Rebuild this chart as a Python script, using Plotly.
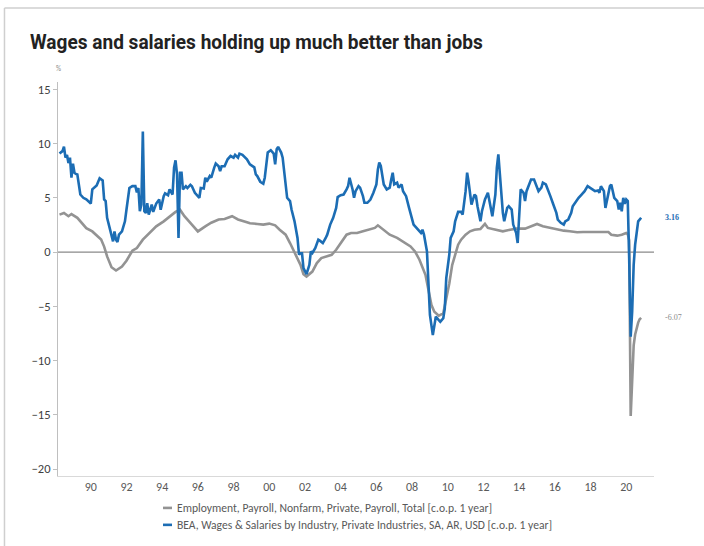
import plotly.graph_objects as go

# BEA private wages & salaries, % change over 1 year
wage_dates = [
    "1988-04", "1988-05", "1988-06", "1988-07", "1988-08", "1988-09", "1988-10", "1988-11", "1988-12",
    "1989-01", "1989-02", "1989-03", "1989-04", "1989-06", "1989-08", "1989-10", "1989-11",
    "1990-01", "1990-02", "1990-05", "1990-07", "1990-09", "1990-10", "1990-11", "1990-12",
    "1991-03", "1991-04", "1991-05", "1991-06", "1991-07", "1991-08", "1991-10", "1991-12",
    "1992-01", "1992-03", "1992-05", "1992-07", "1992-08", "1992-09", "1992-10", "1992-11", "1992-12",
    "1993-01", "1993-02", "1993-03", "1993-04", "1993-06", "1993-07", "1993-09", "1993-11", "1993-12",
    "1994-02", "1994-03", "1994-05", "1994-06", "1994-08", "1994-09", "1994-10", "1994-11", "1994-12",
    "1995-01", "1995-02", "1995-03", "1995-05", "1995-06", "1995-08", "1995-09", "1995-11",
    "1996-01", "1996-02", "1996-03", "1996-05", "1996-06", "1996-07", "1996-09", "1996-10", "1996-12",
    "1997-01", "1997-03", "1997-04", "1997-05", "1997-07", "1997-09", "1997-11",
    "1998-01", "1998-02", "1998-04", "1998-05", "1998-07", "1998-10", "1998-12",
    "1999-01", "1999-03", "1999-04", "1999-05", "1999-07", "1999-09", "1999-10", "1999-12",
    "2000-02", "2000-04", "2000-05", "2000-06", "2000-07", "2000-09", "2000-10", "2000-12",
    "2001-01", "2001-03", "2001-04", "2001-06", "2001-08", "2001-09", "2001-10", "2001-11", "2001-12",
    "2002-02", "2002-04", "2002-05", "2002-06", "2002-08", "2002-10", "2002-11",
    "2003-01", "2003-03", "2003-04", "2003-06", "2003-08", "2003-10", "2003-11",
    "2004-01", "2004-03", "2004-05", "2004-06", "2004-07", "2004-08", "2004-09", "2004-10", "2004-11",
    "2005-01", "2005-02", "2005-04", "2005-05", "2005-07", "2005-09", "2005-11",
    "2006-01", "2006-02", "2006-03", "2006-04", "2006-05", "2006-06", "2006-08", "2006-10", "2006-11", "2006-12",
    "2007-01", "2007-03", "2007-04", "2007-06", "2007-07", "2007-09", "2007-11",
    "2008-01", "2008-02", "2008-04", "2008-06", "2008-07", "2008-08", "2008-09", "2008-11", "2008-12",
    "2009-01", "2009-03", "2009-04", "2009-05", "2009-07", "2009-08", "2009-10", "2009-11", "2009-12",
    "2010-02", "2010-03", "2010-05", "2010-06", "2010-08", "2010-10", "2010-11",
    "2011-01", "2011-02", "2011-03", "2011-05", "2011-07", "2011-08", "2011-09", "2011-11", "2011-12",
    "2012-02", "2012-04", "2012-05", "2012-07", "2012-09", "2012-10", "2012-11", "2012-12",
    "2013-02", "2013-03", "2013-05", "2013-06", "2013-08", "2013-09", "2013-11", "2013-12",
    "2014-01", "2014-02", "2014-04", "2014-05", "2014-06", "2014-08", "2014-09", "2014-11",
    "2015-01", "2015-02", "2015-04", "2015-05", "2015-07", "2015-09", "2015-10", "2015-12",
    "2016-02", "2016-03", "2016-05", "2016-07", "2016-08", "2016-10", "2016-12",
    "2017-01", "2017-03", "2017-05", "2017-07", "2017-09", "2017-11",
    "2018-01", "2018-02", "2018-04", "2018-06", "2018-07", "2018-08", "2018-10", "2018-11",
    "2019-01", "2019-02", "2019-03", "2019-04", "2019-05", "2019-07", "2019-08", "2019-09", "2019-10", "2019-11", "2019-12",
    "2020-01", "2020-02", "2020-03", "2020-04", "2020-05", "2020-06", "2020-07", "2020-08", "2020-09", "2020-10", "2020-11",
]
wage_vals = [
    9.07, 9.2, 9.3, 9.7, 8.7, 8.95, 8.2, 8.7, 6.85,
    8.15, 7.3, 7.2, 7.15, 5.3, 5.0, 4.85, 4.7,
    4.47, 5.77, 6.14, 6.8, 6.6, 4.85, 4.7, 3.15,
    1.6, 0.98, 1.9, 1.14, 0.93, 1.6, 1.9, 2.83,
    3.9, 5.9, 6.07, 6.07, 5.5, 5.9, 3.76, 4.38, 11.1,
    3.76, 3.6, 4.5, 3.45, 4.38, 3.7, 4.47, 4.85, 3.9,
    5.15, 5.4, 5.24, 5.77, 5.3, 7.78, 8.45, 7.15, 1.3,
    7.3, 7.3, 5.77, 6.07, 5.9, 6.2, 6.07, 5.46,
    5.15, 5.0, 5.9, 5.86, 6.85, 6.5, 7.0, 6.85, 7.78,
    8.15, 7.9, 7.46, 7.9, 7.9, 8.55, 8.85,
    8.7, 8.95, 8.7, 9.07, 8.95, 8.55, 8.08,
    8.0, 7.8, 7.15, 7.0, 6.48, 6.3, 6.85, 9.17,
    9.38, 9.07, 8.08, 9.47, 9.69, 9.17, 8.7, 5.93,
    5.0, 4.69, 3.92, 2.83, 1.3, -0.25, -0.09, -0.1, -1.48,
    -2.04, -1.18, 0.06, -0.09, 0.37, 1.14, 1.05,
    0.83, 1.3, 1.6, 2.53, 3.15, 4.07, 5.06,
    5.24, 5.3, 5.77, 6.07, 6.85, 6.39, 5.77, 5.0, 5.61,
    6.07, 5.93, 5.15, 4.54, 4.54, 4.84, 5.46,
    6.23, 7.62, 8.24, 7.93, 6.85, 6.23, 5.77, 5.93, 6.69, 7.31,
    6.23, 6.39, 5.93, 6.23, 5.61, 5.15, 4.07,
    3.15, 2.53, 2.22, 1.97, 1.76, 2.06, 1.6, 0.06, -3.03,
    -5.8, -7.66, -6.58, -5.96, -6.27, -6.42, -6.1, -5.19, -2.41,
    -0.25, 1.3, 1.91, 2.83, 3.7, 3.7, 3.45,
    5.61, 7.31, 6.54, 4.38, 5.3, 5.15, 4.22, 2.83, 3.76,
    4.84, 5.46, 4.84, 3.3, 5.3, 7.78, 9.0, 7.16,
    3.61, 2.83, 4.07, 4.22, 3.92, 2.53, 1.76, 0.83,
    3.76, 5.77, 5.46, 4.69, 5.61, 6.23, 6.69, 6.69,
    6.07, 5.61, 5.93, 6.39, 6.23, 5.61, 5.15, 4.38,
    3.61, 2.99, 2.69, 2.53, 2.83, 2.99, 3.61,
    4.22, 4.63, 5.0, 5.3, 5.61, 6.07,
    5.86, 5.77, 5.61, 5.68, 5.46, 6.07, 5.61, 4.07,
    5.3, 6.07, 6.23, 5.61, 5.0, 4.69, 3.92, 4.54, 3.76, 5.0, 4.45,
    4.84, 4.69, -0.56, -7.8, -5.5, -1.18, 0.68, 1.91, 2.83, 2.99, 3.16,
]

# Private nonfarm payroll employment, % change over 1 year
emp_dates = [
    "1988-04", "1988-07", "1988-10", "1988-12", "1989-04", "1989-07", "1989-10",
    "1990-02", "1990-05", "1990-08", "1990-10", "1990-12", "1991-03", "1991-06", "1991-10",
    "1992-01", "1992-05", "1992-08", "1992-12", "1993-05", "1993-09",
    "1994-02", "1994-06", "1994-10", "1995-01", "1995-04", "1995-09",
    "1996-01", "1996-06", "1996-10", "1997-03", "1997-07", "1997-12",
    "1998-04", "1998-10", "1998-12", "1999-05", "1999-09",
    "2000-01", "2000-05", "2000-08", "2000-12", "2001-03", "2001-06", "2001-10", "2001-12",
    "2002-02", "2002-06", "2002-09", "2002-12", "2003-04", "2003-07", "2003-10",
    "2004-02", "2004-05", "2004-08", "2004-12", "2005-04", "2005-09", "2005-12",
    "2006-02", "2006-06", "2006-10", "2007-03", "2007-07", "2007-12",
    "2008-03", "2008-06", "2008-10", "2008-12", "2009-02", "2009-04", "2009-07", "2009-10", "2009-12",
    "2010-02", "2010-04", "2010-06", "2010-08", "2010-10", "2011-01", "2011-04", "2011-07", "2011-11",
    "2012-02", "2012-04", "2012-09", "2013-02", "2013-07", "2013-11", "2014-05", "2014-09",
    "2015-01", "2015-05", "2015-10", "2016-02", "2016-07", "2016-11", "2017-04", "2017-08",
    "2018-01", "2018-05", "2018-10", "2019-01", "2019-03", "2019-07", "2019-10",
    "2020-01", "2020-02", "2020-03", "2020-04", "2020-05", "2020-06", "2020-07", "2020-08", "2020-09", "2020-10", "2020-11",
]
emp_vals = [
    3.45, 3.6, 3.3, 3.5, 3.15, 2.7, 2.2,
    1.9, 1.5, 1.15, 0.5, -0.4, -1.4, -1.7, -1.33,
    -0.8, 0.12, 0.37, 1.14, 1.85, 2.37,
    2.83, 3.3, 3.7, 3.9, 3.3, 2.53,
    1.9, 2.37, 2.7, 3.0, 3.05, 3.3,
    3.0, 2.75, 2.65, 2.59, 2.53,
    2.62, 2.46, 2.06, 1.6, 0.83, -0.09, -1.18, -2.04,
    -2.26, -1.8, -1.02, -0.56, -0.41, -0.25, 0.21,
    0.98, 1.6, 1.76, 1.76, 1.91, 2.06, 2.22,
    2.46, 2.06, 1.6, 1.3, 0.98, 0.52,
    0.06, -0.71, -2.1, -3.65, -4.88, -5.5, -5.87, -5.65, -4.4,
    -2.9, -1.2, -0.25, 0.68, 1.14, 1.6, 1.91, 2.06, 2.13,
    2.59, 2.22, 2.06, 1.91, 2.06, 2.16, 2.16, 2.37,
    2.59, 2.37, 2.22, 2.06, 1.97, 1.91, 1.82, 1.85,
    1.85, 1.85, 1.85, 1.85, 1.6, 1.51, 1.6,
    1.76, 1.65, 1.1, -15.1, -11.2, -8.6, -7.6, -6.9, -6.5, -6.2, -6.07,
]

tick_years = list(range(1990, 2021, 2))
tick_vals = [f"{y}-01-01" for y in tick_years]
tick_text = [f"{y % 100:02d}" for y in tick_years]

EMP_NAME = "Employment, Payroll, Nonfarm, Private, Payroll, Total [c.o.p. 1 year]"
WAGE_NAME = "BEA, Wages & Salaries by Industry, Private Industries, SA, AR, USD [c.o.p. 1 year]"
EMP_COLOR = "#939393"
WAGE_COLOR = "#1c6db4"
AXIS_FONT = "Carlito, Lato, 'Open Sans', sans-serif"

fig = go.Figure()
fig.add_trace(go.Scatter(x=emp_dates, y=emp_vals, mode="lines", name=EMP_NAME,
                         line=dict(color=EMP_COLOR, width=2.6), showlegend=False))
fig.add_trace(go.Scatter(x=wage_dates, y=wage_vals, mode="lines", name=WAGE_NAME,
                         line=dict(color=WAGE_COLOR, width=2.6), showlegend=False))

# zero reference line
fig.add_hline(y=0, line=dict(color="#8a8a8a", width=1.3), layer="below")

# end-of-series value labels
fig.add_annotation(x=1, xref="paper", xanchor="left", xshift=9, y=wage_vals[-1], yref="y",
                   text=f"{wage_vals[-1]:.2f}", showarrow=False,
                   font=dict(family="'Liberation Serif', serif", size=8, color=WAGE_COLOR, weight="bold"))
fig.add_annotation(x=1, xref="paper", xanchor="left", xshift=9, y=emp_vals[-1], yref="y",
                   text=f"{emp_vals[-1]:.2f}", showarrow=False,
                   font=dict(family="'Liberation Serif', serif", size=8, color="#8c8c8c"))

# unit label above the value axis
fig.add_annotation(x=0, xref="paper", y=1, yref="paper", yshift=7, xanchor="center", yanchor="bottom",
                   text="%", showarrow=False, font=dict(family=AXIS_FONT, size=7, color="#8c8c8c"))

# legend rows: short line sample + label
legend_rows = [(EMP_NAME, EMP_COLOR, -0.081), (WAGE_NAME, WAGE_COLOR, -0.124)]
for label, color, ypos in legend_rows:
    fig.add_shape(type="line", xref="paper", yref="paper", x0=0.1762, x1=0.1913, y0=ypos, y1=ypos,
                  line=dict(color=color, width=2.6))
    fig.add_annotation(x=0.1963, xref="paper", y=ypos, yref="paper", xanchor="left", yanchor="middle",
                       text=label, showarrow=False,
                       font=dict(family=AXIS_FONT, size=11.6, color="#595959"))

# outer frame (top and left edges)
fig.add_shape(type="line", xref="paper", yref="paper", x0=-0.0898, x1=1.09, y0=1.1878, y1=1.1878,
              line=dict(color="#cfcfcf", width=1.5))
fig.add_shape(type="line", xref="paper", yref="paper", x0=-0.0898, x1=-0.0898, y0=1.1878, y1=-0.2,
              line=dict(color="#cfcfcf", width=1.5))

fig.update_layout(
    width=704, height=546,
    margin=dict(l=58, r=50, t=82, b=70),
    paper_bgcolor="white", plot_bgcolor="white",
    title=dict(text="Wages and salaries holding up much better than jobs",
               x=30 / 704, xref="container", xanchor="left",
               y=1 - 42 / 546, yref="container", yanchor="middle",
               font=dict(family="Roboto, 'DejaVu Sans Condensed', sans-serif",
                         size=21, color="#222222", weight="bold")),
    xaxis=dict(type="date", range=["1988-03-01", "2021-07-22"],
               tickvals=tick_vals, ticktext=tick_text, ticks="",
               showgrid=False, zeroline=False,
               showline=True, linecolor="#d9d9d9", linewidth=1,
               tickfont=dict(family=AXIS_FONT, size=12, color="#595959")),
    yaxis=dict(range=[-20.64, 15.67], tickvals=[-20, -15, -10, -5, 0, 5, 10, 15],
               ticks="outside", ticklen=4, tickcolor="#bfbfbf",
               showgrid=False, zeroline=False,
               showline=True, linecolor="#bfbfbf", linewidth=1,
               tickfont=dict(family=AXIS_FONT, size=12.5, color="#404040")),
)

# narrow the headline into a condensed set, anchored at its left edge
condense_title = """
var gd = document.getElementById('{plot_id}');
function condense() {
  var t = gd.querySelector('.gtitle');
  if (!t) return;
  t.removeAttribute('transform');
  var box = t.getBBox();
  var left = box.x, target = 453;
  var s = target / box.width;
  t.setAttribute('transform', 'translate(' + left + ',0) scale(' + s + ',1) translate(' + (-left) + ',0)');
}
condense();
gd.on('plotly_afterplot', condense);
"""

fig.write_html("out.html", post_script=condense_title)
